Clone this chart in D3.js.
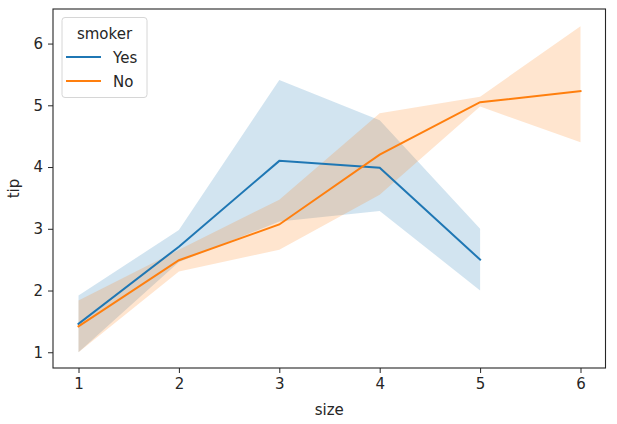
<!DOCTYPE html>
<html>
<head>
<meta charset="utf-8">
<script src="https://cdn.jsdelivr.net/npm/d3@7"></script>
<style>
  html, body { margin: 0; padding: 0; background: #fff; }
  svg { display: block; }
  text { font-family: "DejaVu Sans", sans-serif; fill: #262626; }
</style>
</head>
<body>
<svg id="chart" width="617" height="424"></svg>
<script>
// Data
const sizesYes = [1, 2, 3, 4, 5];
const tipYes   = [1.46, 2.71, 4.10, 3.99, 2.50];
const loYes    = [1.00, 2.46, 3.12, 3.29, 2.00];
const hiYes    = [1.92, 2.98, 5.41, 4.76, 3.00];

const sizesNo = [1, 2, 3, 4, 5, 6];
const tipNo   = [1.42, 2.49, 3.07, 4.20, 5.05, 5.23];
const loNo    = [1.00, 2.31, 2.66, 3.55, 4.98, 4.40];
const hiNo    = [1.84, 2.66, 3.47, 4.87, 5.14, 6.28];

const xTicks = [1, 2, 3, 4, 5, 6];
const yTicks = [1, 2, 3, 4, 5, 6];
const seriesNames = ["Yes", "No"];
const colors = ["#1f77b4", "#ff7f0e"];

const svg = d3.select("#chart");
const L = 53, R = 605.5, T = 9, B = 368;

const x = d3.scaleLinear().domain([0.746, 6.249]).range([L, R]);
const y = d3.scaleLinear().domain([0.745, 6.56]).range([B, T]);

const series = [
  { name: seriesNames[0], color: colors[0], xs: sizesYes, m: tipYes, lo: loYes, hi: hiYes },
  { name: seriesNames[1], color: colors[1], xs: sizesNo, m: tipNo, lo: loNo, hi: hiNo }
];

const area = d3.area()
  .x(d => x(d.x)).y0(d => y(d.lo)).y1(d => y(d.hi));
const line = d3.line().x(d => x(d.x)).y(d => y(d.m));

// bands (below lines)
series.forEach(s => {
  const pts = s.xs.map((v, i) => ({ x: v, m: s.m[i], lo: s.lo[i], hi: s.hi[i] }));
  svg.append("path").attr("d", area(pts))
    .attr("fill", s.color).attr("fill-opacity", 0.2).attr("stroke", "none");
});
series.forEach(s => {
  const pts = s.xs.map((v, i) => ({ x: v, m: s.m[i] }));
  svg.append("path").attr("d", line(pts))
    .attr("fill", "none").attr("stroke", s.color).attr("stroke-width", 2)
    .attr("stroke-linecap", "square");
});

// axes
const xAxis = d3.axisBottom(x).tickValues(xTicks).tickFormat(d3.format("d")).tickSize(5).tickPadding(5);
const yAxis = d3.axisLeft(y).tickValues(yTicks).tickFormat(d3.format("d")).tickSize(5).tickPadding(5);

const gx = svg.append("g").attr("transform", `translate(0,${B})`).call(xAxis);
const gy = svg.append("g").attr("transform", `translate(${L},0)`).call(yAxis);
[gx, gy].forEach(g => {
  g.select(".domain").remove();
  g.selectAll(".tick line").attr("stroke", "#262626").attr("stroke-width", 1);
  g.selectAll(".tick text").style("font-size", "15px").style("fill", "#262626")
    .style("font-family", "DejaVu Sans, sans-serif");
});

// spines
svg.append("rect").attr("x", L).attr("y", T).attr("width", R - L).attr("height", B - T)
  .attr("fill", "none").attr("stroke", "#262626").attr("stroke-width", 1.1);

// axis labels
svg.append("text").attr("x", (L + R) / 2).attr("y", 415).attr("text-anchor", "middle")
  .style("font-size", "15px").text("size");
svg.append("text").attr("transform", `translate(19,${(T + B) / 2}) rotate(-90)`)
  .attr("text-anchor", "middle").style("font-size", "15px").text("tip");

// legend
const lg = svg.append("g");
lg.append("rect").attr("x", 62).attr("y", 17.5).attr("width", 85).attr("height", 80)
  .attr("rx", 3).attr("fill", "#fff").attr("fill-opacity", 0.8)
  .attr("stroke", "#d6d6d6").attr("stroke-width", 1);
lg.append("text").attr("x", 104.5).attr("y", 38.5).attr("text-anchor", "middle")
  .style("font-size", "15px").text("smoker");
series.forEach((s, i) => {
  const yy = 57 + i * 24;
  lg.append("line").attr("x1", 66).attr("x2", 101).attr("y1", yy).attr("y2", yy)
    .attr("stroke", s.color).attr("stroke-width", 2);
  lg.append("text").attr("x", 113).attr("y", yy + 5.5).style("font-size", "15px").text(s.name);
});
</script>
</body>
</html>
